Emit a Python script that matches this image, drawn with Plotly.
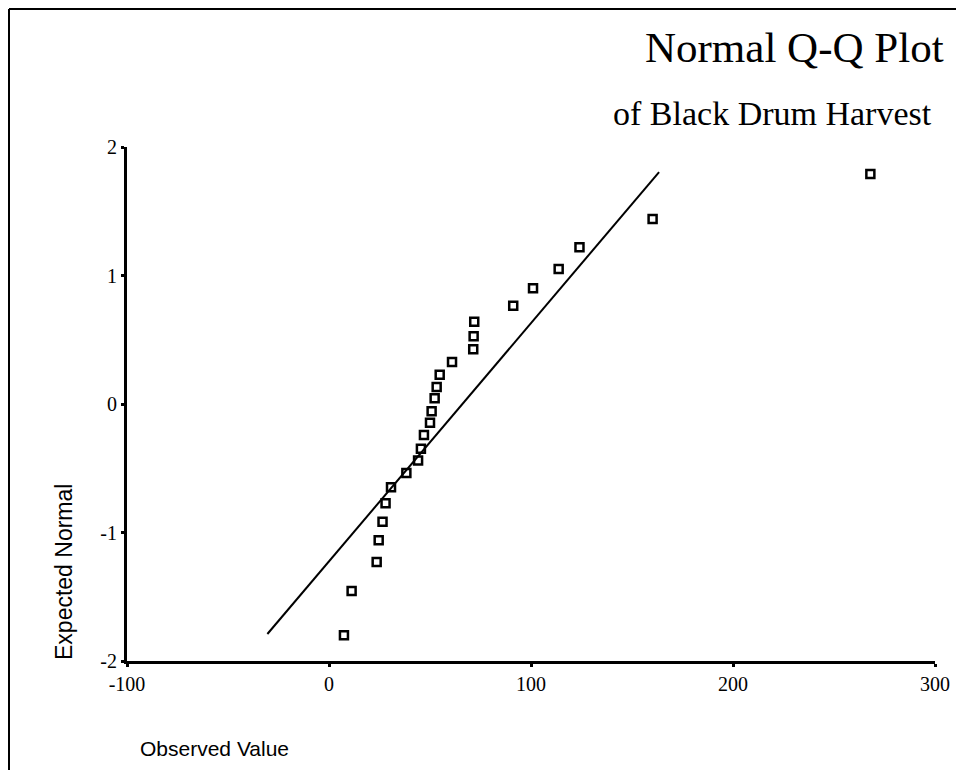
import plotly.graph_objects as go

observed = [7.4, 11.2, 23.6, 24.6, 26.5, 28.0, 30.7, 38.3, 44.1, 45.5, 47.0,
            50.0, 50.8, 52.3, 53.3, 54.8, 60.9, 71.4, 71.6, 71.9, 91.2, 101.0,
            113.7, 124.0, 160.2, 268.0]
expected = [-1.80, -1.455, -1.23, -1.06, -0.916, -0.773, -0.648, -0.537, -0.44,
            -0.348, -0.241, -0.145, -0.057, 0.044, 0.132, 0.228, 0.327, 0.426,
            0.527, 0.64, 0.765, 0.90, 1.05, 1.22, 1.44, 1.79]

# reference line end points
line_x = [-30.5, 163.4]
line_y = [-1.79, 1.805]

x_ticks = [-100, 0, 100, 200, 300]
x_labels = ["-100", "0", "100", "200", "300"]
y_ticks = [-2, -1, 0, 1, 2]
y_labels = ["-2", "-1", "0", "1", "2"]

W, H = 964, 770
OFF = 8  # page body margin, the figure starts 8px in
# plot area in page pixels: x 127..935, y 147..661
L, R, T, B = 127 - OFF, W - (935 - OFF), 147 - OFF, H - (661 - OFF)
pw, ph = W - L - R, H - T - B


def px(x):
    # page pixel -> paper x
    return (x - OFF - L) / pw


def py(y):
    # page pixel -> paper y
    return (H - B - (y - OFF)) / ph


serif = "Liberation Serif, Times New Roman, serif"
sans = "Liberation Sans, Arial, sans-serif"

fig = go.Figure()
fig.add_trace(go.Scatter(
    x=line_x, y=line_y, mode="lines",
    line=dict(color="black", width=2), hoverinfo="skip",
))
fig.add_trace(go.Scatter(
    x=observed, y=expected, mode="markers",
    marker=dict(symbol="square-open", size=8, color="black",
                line=dict(color="black", width=2.5)),
))

fig.update_xaxes(
    range=[-100, 300], tickvals=x_ticks, ticktext=x_labels,
    showgrid=False, zeroline=False,
    showline=True, linecolor="black", linewidth=3,
    ticks="outside", ticklen=3, tickwidth=3, tickcolor="black",
    tickfont=dict(family=serif, size=20, color="black"),
)
fig.update_yaxes(
    range=[-2, 2], tickvals=y_ticks, ticktext=y_labels,
    showgrid=False, zeroline=False,
    showline=True, linecolor="black", linewidth=3,
    ticks="outside", ticklen=3, tickwidth=3, tickcolor="black",
    tickfont=dict(family=serif, size=20, color="black"),
)

annotations = [
    dict(text="Normal Q-Q Plot", x=px(946), y=py(47), xanchor="right",
         yanchor="middle", font=dict(family=serif, size=43, color="black")),
    dict(text="of Black Drum Harvest", x=px(934), y=py(113), xanchor="right",
         yanchor="middle", font=dict(family=serif, size=34, color="black")),
    dict(text="Expected Normal", x=px(64), y=py(572), xanchor="center",
         yanchor="middle", textangle=-90,
         font=dict(family=sans, size=23, color="black")),
    dict(text="Observed Value", x=px(138), y=py(748), xanchor="left",
         yanchor="middle", font=dict(family=sans, size=21, color="black")),
]
for a in annotations:
    a.update(xref="paper", yref="paper", showarrow=False)

# page frame (left and top edges)
shapes = [
    dict(type="line", xref="paper", yref="paper",
         x0=px(9), x1=px(9), y0=py(9), y1=py(780),
         line=dict(color="black", width=2)),
    dict(type="line", xref="paper", yref="paper",
         x0=px(9), x1=px(980), y0=py(9), y1=py(9),
         line=dict(color="black", width=2)),
]

fig.update_layout(
    width=W, height=H,
    margin=dict(l=L, r=R, t=T, b=B),
    paper_bgcolor="white", plot_bgcolor="white",
    showlegend=False,
    annotations=annotations,
    shapes=shapes,
)

fig.write_html("out.html")
